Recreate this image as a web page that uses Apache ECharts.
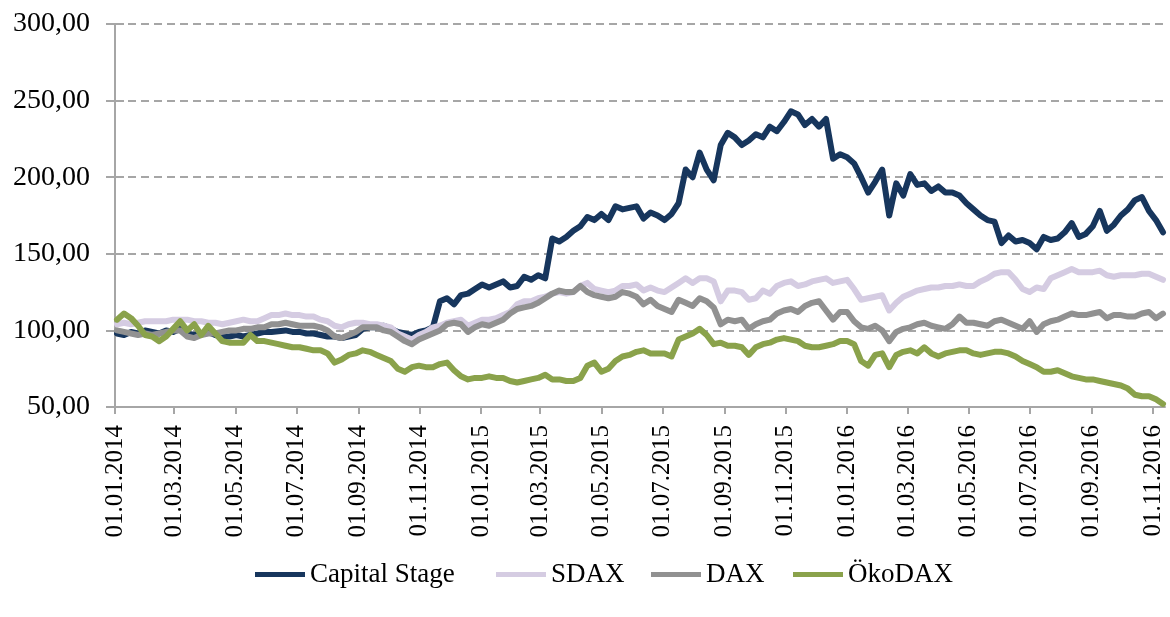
<!DOCTYPE html>
<html>
<head>
<meta charset="utf-8">
<script src="https://cdn.jsdelivr.net/npm/echarts@6/dist/echarts.min.js"></script>
<style>
html,body{margin:0;padding:0;background:#fff;}
#chart{width:1170px;height:617px;}
</style>
</head>
<body>
<div id="chart"></div>
<script>
// Weekly observations (Fridays) starting 03.01.2014
const firstObservation = '2014-01-03';
const tickLabels = ['01.01.2014','01.03.2014','01.05.2014','01.07.2014','01.09.2014','01.11.2014',
  '01.01.2015','01.03.2015','01.05.2015','01.07.2015','01.09.2015','01.11.2015',
  '01.01.2016','01.03.2016','01.05.2016','01.07.2016','01.09.2016','01.11.2016'];
const seriesNames = ['Capital Stage','SDAX','DAX','ÖkoDAX'];

const capitalStage = [98,97,99,98,100,99,98,100,99,101,98,97,98,99,97,96,96,97,96,97,
  98,99,99,99.5,100,99,99,98,98,97,96,96,95,96,97,101,102,102,103,101,
  99,98,97,99,100,102,119,121,117,123,124,127,130,128,130,132,128,129,135,133,
  136,134,160,158,161,165,168,174,172,176,172,181,179,180,181,173,177,175,172,176,
  183,205,200,216,205,198,221,229,226,221,224,228,226,233,230,236,243,241,234,238,
  233,238,212,215,213,209,200,190,197,205,175,196,188,202,195,196,191,194,190,190,
  188,183,179,175,172,171,157,162,158,159,157,153,161,159,160,164,170,161,163,168,
  178,165,169,175,179,185,187,178,172,164];

const sdax = [104,105,104,105,106,106,106,106,107,107,107,106,106,105,105,104,105,106,107,106,
  106,108,110,110,111,110,110,109,109,107,106,103,102,104,105,105,104,104,103,102,
  98,96,94,97,99,102,103,105,106,107,103,105,107,107,108,110,112,117,119,119,
  121,122,124,125,124,125,129,131,127,126,125,126,129,129,130,126,128,126,125,128,
  131,134,131,134,134,132,119,126,126,125,120,121,126,124,129,131,132,129,130,132,
  133,134,131,132,133,127,120,121,122,123,113,118,122,124,126,127,128,128,129,129,
  130,129,129,132,134,137,138,138,133,127,125,128,127,134,136,138,140,138,138,138,
  139,136,135,136,136,136,137,137,135,133];

const dax = [100,99,98,97,98,97,98,99,100,100,96,95,97,98,98,99,100,100,101,101,
  102,102,104,104,105,104,103,103,103,102,100,96,95,97,99,102,102,102,100,99,
  96,93,91,94,96,98,100,104,105,104,99,102,104,103,105,107,111,114,115,116,
  118,121,124,126,125,125,129,125,123,122,121,122,125,124,122,117,120,116,114,112,
  120,118,116,121,119,115,104,107,106,107,101,104,106,107,111,113,114,112,116,118,
  119,113,107,112,112,106,102,101,103,100,93,99,101,102,104,105,103,102,101,104,
  109,105,105,104,103,106,107,105,103,101,106,99,104,106,107,109,111,110,110,111,
  112,108,110,110,109,109,111,112,108,111];

const oekoDax = [107,111,108,103,97,96,93,96,101,106,100,104,97,103,98,93,92,92,92,97,
  93,93,92,91,90,89,89,88,87,87,85,79,81,84,85,87,86,84,82,80,
  75,73,76,77,76,76,78,79,74,70,68,69,69,70,69,69,67,66,67,68,
  69,71,68,68,67,67,69,77,79,73,75,80,83,84,86,87,85,85,85,83,
  94,96,98,101,97,91,92,90,90,89,84,89,91,92,94,95,94,93,90,89,
  89,90,91,93,93,91,80,77,84,85,76,84,86,87,85,89,85,83,85,86,
  87,87,85,84,85,86,86,85,83,80,78,76,73,73,74,72,70,69,68,68,
  67,66,65,64,62,58,57,57,55,52];

const colors = ['#17365d','#d5cce2','#919191','#8aa24b'];

function parseDE(s){ const p = s.split('.'); return new Date(+p[2], +p[1]-1, +p[0]).getTime(); }
const start = (function(){ const p = firstObservation.split('-'); return new Date(+p[0], +p[1]-1, +p[2]); })();
function obsDate(i){ const d = new Date(start); d.setDate(d.getDate() + 7*i); return d.getTime(); }
function pairs(arr){ return arr.map((v,i)=>[obsDate(i), v]); }
const tickValues = tickLabels.map(parseDE);
function pad(n){ return (n<10?'0':'')+n; }

const FONT = '"Liberation Serif", "DejaVu Serif", serif';
const AXIS_COLOR = '#a6a6a6';
const legendLefts = [255, 496, 651, 793];

const chart = echarts.init(document.getElementById('chart'), null, {renderer:'canvas'});
chart.setOption({
  animation:false,
  backgroundColor:'#ffffff',
  color: colors,
  grid:{left:115, right:5, top:24, bottom:210, containLabel:false},
  legend: seriesNames.map((n,i)=>({
    data:[n], left:legendLefts[i], top:561, padding:0,
    icon:'rect', itemWidth:50, itemHeight:5,
    textStyle:{fontFamily:FONT, fontSize:27, color:'#000'}
  })),
  xAxis:{
    type:'value',
    min: new Date(2014,0,1).getTime(),
    max: new Date(2016,10,13).getTime(),
    axisLine:{show:true, lineStyle:{color:AXIS_COLOR, width:2}},
    axisTick:{show:true, customValues: tickValues, length:7, lineStyle:{color:AXIS_COLOR, width:2}},
    axisLabel:{
      customValues: tickValues,
      rotate:90, margin:18, showMinLabel:true, showMaxLabel:true,
      fontFamily:FONT, fontSize:25, color:'#000',
      formatter:function(v){ const d=new Date(v); return pad(d.getDate())+'.'+pad(d.getMonth()+1)+'.'+d.getFullYear(); }
    },
    splitLine:{show:false}
  },
  yAxis:[{
    type:'value', min:50, max:300, interval:50,
    axisLine:{show:true, lineStyle:{color:AXIS_COLOR, width:2}},
    axisTick:{show:true, length:9, lineStyle:{color:AXIS_COLOR, width:2}},
    axisLabel:{margin:25, fontFamily:FONT, fontSize:28, color:'#000',
      formatter:function(v){ return v.toFixed(2).replace('.', ','); }},
    splitLine:{show:true, lineStyle:{color:AXIS_COLOR, width:2, type:[8,5]}}
  },{
    type:'value', min:50, max:300, interval:50, position:'left',
    axisLine:{show:false},
    axisTick:{show:true, inside:true, length:9, lineStyle:{color:AXIS_COLOR, width:2}},
    axisLabel:{show:false},
    splitLine:{show:false}
  }],
  series: [capitalStage, sdax, dax, oekoDax].map((arr,i)=>({
    name:seriesNames[i], type:'line', data:pairs(arr), showSymbol:false,
    lineStyle:{width:6, color:colors[i], join:'round', cap:'round'}, itemStyle:{color:colors[i]}
  }))
});
</script>
</body>
</html>
